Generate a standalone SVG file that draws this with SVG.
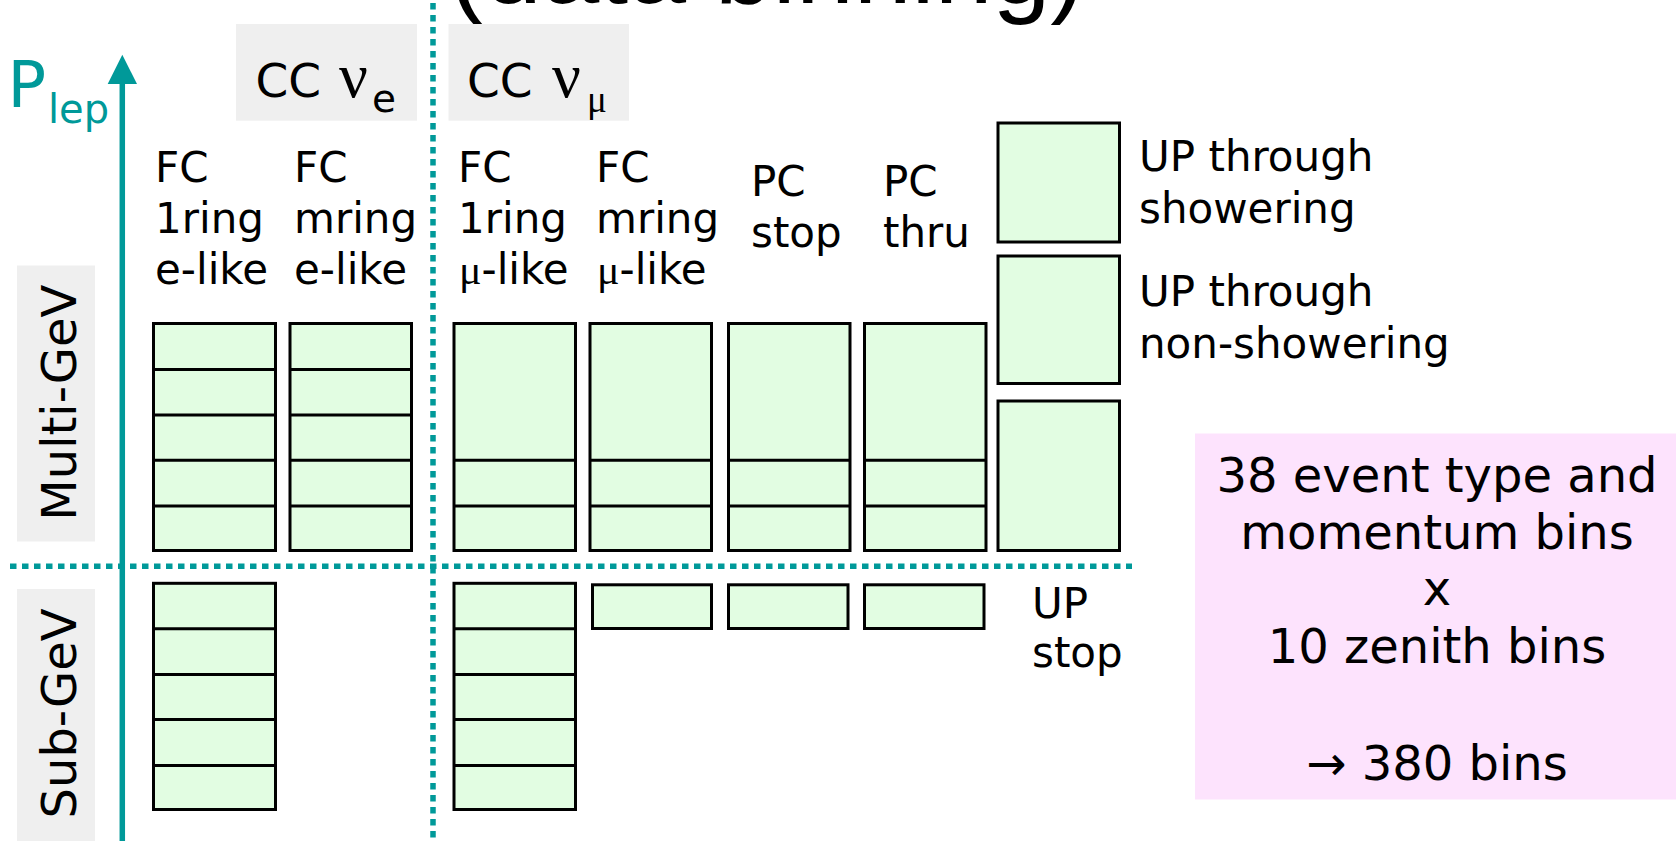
<svg xmlns="http://www.w3.org/2000/svg" width="1676" height="841" viewBox="0 0 1676 841">
<style>
text{font-family:"DejaVu Sans",sans-serif;fill:#000}
.lbl{font-size:42px}
.ser{font-family:"Liberation Serif",serif}
.bin{fill:#E2FDE2;stroke:#000;stroke-width:3}
.div{stroke:#000;stroke-width:3}
.grey{fill:#EFEFEF}
.dot{stroke:#009999;stroke-width:5.5;stroke-dasharray:6.5 5.5;fill:none}
</style>
<rect width="1676" height="841" fill="#fff"/>
<text id="title" x="449" y="3" style="font-family:'Liberation Sans',sans-serif" font-size="104">(data binning)</text>

<g id="connectors">
<line class="dot" x1="433" y1="3" x2="433" y2="841"/>
<line class="dot" x1="10" y1="566.3" x2="1132" y2="566.3"/>
<line x1="122.3" y1="82" x2="122.3" y2="841" stroke="#009999" stroke-width="5.5"/>
<polygon points="122.3,54.7 107.7,84 137,84" fill="#009999"/>
</g>

<g id="axis-label">
<text x="7.5" y="107.3" font-size="64" style="fill:#009999">P<tspan font-size="40" x="48" y="122.7" style="fill:#009999">lep</tspan></text>
</g>

<g id="cc-nue">
<rect class="grey" x="236" y="24" width="181" height="96.7"/>
<text x="255.5" y="97.3" font-size="47">CC</text>
<text class="ser" x="339" y="97.3" font-size="64">ν</text>
<text x="372" y="112.3" font-size="39">e</text>
</g>
<g id="cc-numu">
<rect class="grey" x="448.5" y="24" width="180.5" height="96.7"/>
<text x="467" y="97.3" font-size="47">CC</text>
<text class="ser" x="552" y="97.3" font-size="64">ν</text>
<text class="ser" x="587" y="112" font-size="37">μ</text>
</g>

<g id="multi-gev">
<rect class="grey" x="17" y="265.5" width="78" height="276"/>
<text transform="translate(76,402.7) rotate(-90)" text-anchor="middle" font-size="48">Multi-GeV</text>
</g>
<g id="sub-gev">
<rect class="grey" x="17" y="589" width="78" height="260"/>
<text transform="translate(76,713.5) rotate(-90)" text-anchor="middle" font-size="48">Sub-GeV</text>
</g>

<g id="col-fc1ring-e">
<text class="lbl" x="155" y="181.7">FC</text>
<text class="lbl" x="155" y="233.3">1ring</text>
<text class="lbl" x="155" y="284">e-like</text>
<rect class="bin" x="153.5" y="323.5" width="122" height="227"/>
<line class="div" x1="153.5" y1="369.5" x2="275.5" y2="369.5"/>
<line class="div" x1="153.5" y1="415" x2="275.5" y2="415"/>
<line class="div" x1="153.5" y1="460.3" x2="275.5" y2="460.3"/>
<line class="div" x1="153.5" y1="506" x2="275.5" y2="506"/>
<rect class="bin" x="153.5" y="583.3" width="122" height="226.2"/>
<line class="div" x1="153.5" y1="628.8" x2="275.5" y2="628.8"/>
<line class="div" x1="153.5" y1="674.6" x2="275.5" y2="674.6"/>
<line class="div" x1="153.5" y1="719.6" x2="275.5" y2="719.6"/>
<line class="div" x1="153.5" y1="765.5" x2="275.5" y2="765.5"/>
</g>

<g id="col-fcmring-e">
<text class="lbl" x="294" y="181.7">FC</text>
<text class="lbl" x="294" y="233.3">mring</text>
<text class="lbl" x="294" y="284">e-like</text>
<rect class="bin" x="290" y="323.5" width="121.5" height="227"/>
<line class="div" x1="290" y1="369.5" x2="411.5" y2="369.5"/>
<line class="div" x1="290" y1="415" x2="411.5" y2="415"/>
<line class="div" x1="290" y1="460.3" x2="411.5" y2="460.3"/>
<line class="div" x1="290" y1="506" x2="411.5" y2="506"/>
</g>

<g id="col-fc1ring-mu">
<text class="lbl" x="458" y="181.7">FC</text>
<text class="lbl" x="458" y="233.3">1ring</text>
<text class="lbl" x="459" y="284"><tspan class="ser">μ</tspan>-like</text>
<rect class="bin" x="454" y="323.5" width="121.5" height="227"/>
<line class="div" x1="454" y1="460.3" x2="575.5" y2="460.3"/>
<line class="div" x1="454" y1="506" x2="575.5" y2="506"/>
<rect class="bin" x="454" y="583.3" width="121.5" height="226.2"/>
<line class="div" x1="454" y1="628.8" x2="575.5" y2="628.8"/>
<line class="div" x1="454" y1="674.6" x2="575.5" y2="674.6"/>
<line class="div" x1="454" y1="719.6" x2="575.5" y2="719.6"/>
<line class="div" x1="454" y1="765.5" x2="575.5" y2="765.5"/>
</g>

<g id="col-fcmring-mu">
<text class="lbl" x="596" y="181.7">FC</text>
<text class="lbl" x="596" y="233.3">mring</text>
<text class="lbl" x="597" y="284"><tspan class="ser">μ</tspan>-like</text>
<rect class="bin" x="590" y="323.5" width="121.5" height="227"/>
<line class="div" x1="590" y1="460.3" x2="711.5" y2="460.3"/>
<line class="div" x1="590" y1="506" x2="711.5" y2="506"/>
<rect class="bin" x="592.5" y="584.8" width="119" height="43.7"/>
</g>

<g id="col-pcstop">
<text class="lbl" x="751" y="196">PC</text>
<text class="lbl" x="751" y="246.7">stop</text>
<rect class="bin" x="728.5" y="323.5" width="121.5" height="227"/>
<line class="div" x1="728.5" y1="460.3" x2="850" y2="460.3"/>
<line class="div" x1="728.5" y1="506" x2="850" y2="506"/>
<rect class="bin" x="728.5" y="584.8" width="119.5" height="43.7"/>
</g>

<g id="col-pcthru">
<text class="lbl" x="883" y="196">PC</text>
<text class="lbl" x="883" y="246.7">thru</text>
<rect class="bin" x="864.5" y="323.5" width="121.5" height="227"/>
<line class="div" x1="864.5" y1="460.3" x2="986" y2="460.3"/>
<line class="div" x1="864.5" y1="506" x2="986" y2="506"/>
<rect class="bin" x="864.5" y="584.8" width="119.5" height="43.7"/>
</g>

<g id="col-up">
<rect class="bin" x="998" y="123" width="121.5" height="119"/>
<rect class="bin" x="998" y="256" width="121.5" height="127.5"/>
<rect class="bin" x="998" y="401" width="121.5" height="149.5"/>
<text class="lbl" x="1139" y="171">UP through</text>
<text class="lbl" x="1139" y="222.7">showering</text>
<text class="lbl" x="1139" y="306">UP through</text>
<text class="lbl" x="1139" y="357.7">non-showering</text>
<text class="lbl" x="1032" y="618.3">UP</text>
<text class="lbl" x="1032" y="667">stop</text>
</g>

<g id="summary">
<rect x="1195" y="433.5" width="481" height="366" fill="#FDE3FD"/>
<g text-anchor="middle" font-size="48">
<text x="1437" y="491.7">38 event type and</text>
<text x="1437" y="548.5">momentum bins</text>
<text x="1437" y="605">x</text>
<text x="1437" y="663">10 zenith bins</text>
<text x="1437" y="779.5">→ 380 bins</text>
</g>
</g>
</svg>
